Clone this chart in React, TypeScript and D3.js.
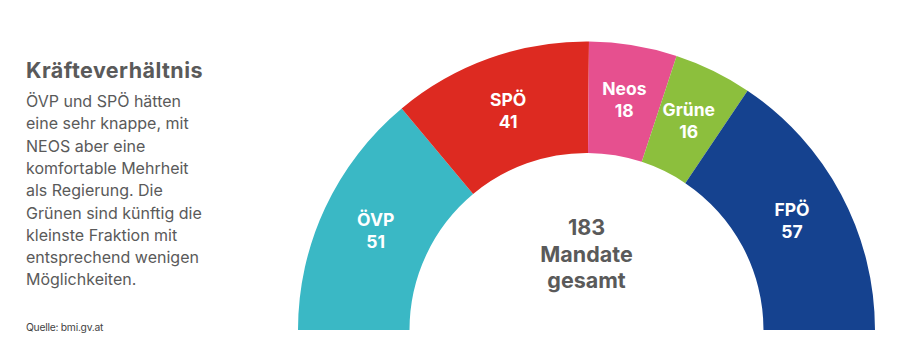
import React from "react";
import * as d3 from "d3";

const parties = ["ÖVP", "SPÖ", "Neos", "Grüne", "FPÖ"];
const seats = [51, 41, 18, 16, 57];
const colors = ["#3ab8c5", "#dd2a21", "#e6508f", "#8cbf3d", "#15428f"];

const title = "Kräfteverhältnis";
const bodyLines = [
    "ÖVP und SPÖ hätten",
    "eine sehr knappe, mit",
    "NEOS aber eine",
    "komfortable Mehrheit",
    "als Regierung. Die",
    "Grünen sind künftig die",
    "kleinste Fraktion mit",
    "entsprechend wenigen",
    "Möglichkeiten.",
];
const source = "Quelle: bmi.gv.at";
const centerLines = [String(d3.sum(seats)), "Mandate", "gesamt"];

const W = 913;
const H = 351;
const cx = 586.5;
const cy = 330;
const rOuter = 288.5;
const rInner = 177;
const font = "Inter, 'Noto Sans', sans-serif";
const gray = "#5a5a5a";

const App = () => {
    const pie = d3.pie<number>()
        .sort(null)
        .startAngle(-Math.PI / 2)
        .endAngle(Math.PI / 2)
        .value(d => d);
    const arcs = pie(seats);
    const arc = d3.arc<d3.PieArcDatum<number>>()
        .innerRadius(rInner)
        .outerRadius(rOuter);

    return (
        <svg width={W} height={H} style={{position: "absolute", left: 0, top: 0, background: "#fff"}}
             fontFamily={font}>
            <text x={26} y={78} fontSize={21.5} fontWeight={700} fill={gray} letterSpacing={0.45}>{title}</text>
            {bodyLines.map((l, i) => (
                <text key={i} x={26} y={107 + i * 22.3} fontSize={16} fill={gray}>{l}</text>
            ))}
            <text x={26} y={331} fontSize={10.3} fill="#444" letterSpacing={-0.25}>{source}</text>

            <g transform={`translate(${cx},${cy})`}>
                {arcs.map((a, i) => (
                    <path key={i} d={arc(a) || ""} fill={colors[i]}/>
                ))}
                {arcs.map((a, i) => {
                    const [x, y] = arc.centroid(a);
                    return (
                        <g key={"l" + i} fill="#fff" fontWeight={700} fontSize={17.5} textAnchor="middle">
                            <text x={x} y={y - 5}>{parties[i]}</text>
                            <text x={x} y={y + 17}>{seats[i]}</text>
                        </g>
                    );
                })}
                {centerLines.map((l, i) => (
                    <text key={"c" + i} x={0} y={-95 + i * 26.5} textAnchor="middle" fontSize={21.5}
                          fontWeight={700} fill={gray}>{l}</text>
                ))}
            </g>
        </svg>
    );
};

export default App;
